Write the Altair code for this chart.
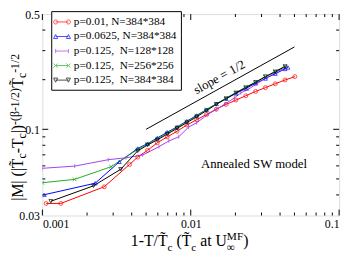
import altair as alt
import pandas as pd

# ---------------- data ----------------
labels = ["p=0.01, N=384*384", "p=0.0625, N=384*384", "p=0.125,\u00a0 N=128*128",
          "p=0.125,\u00a0 N=256*256", "p=0.125,\u00a0 N=384*384"]
colors = ["#ff0000", "#0000ff", "#a040f0", "#22aa22", "#000000"]

red_x = [0.00106, 0.00133, 0.00261, 0.00387, 0.00439, 0.00511, 0.00595, 0.00694, 0.00808, 0.00941,
         0.01096, 0.01276, 0.01487, 0.01732, 0.02017, 0.02349, 0.02736, 0.03187, 0.03712, 0.04323, 0.05035]
red_y = [0.0355, 0.0355, 0.0448, 0.0612, 0.0678, 0.0745, 0.0829, 0.0899, 0.0973, 0.1062,
         0.1143, 0.1230, 0.1324, 0.1417, 0.1504, 0.1598, 0.1697, 0.1790, 0.1889, 0.1992, 0.2088]

blue_x = [0.00103, 0.00227, 0.0033, 0.00439, 0.00511, 0.00595, 0.00694, 0.00808, 0.00941, 0.01096,
          0.01276, 0.01487, 0.01732, 0.02017, 0.02349, 0.02736, 0.03187, 0.03712, 0.04323, 0.0452]
blue_y = [0.0401, 0.0471, 0.0635, 0.0765, 0.0818, 0.0886, 0.0960, 0.1034, 0.1121, 0.1214,
          0.1316, 0.1426, 0.1535, 0.1651, 0.1768, 0.1901, 0.2033, 0.2174, 0.2324, 0.2371]

purple_x = [0.001, 0.00165, 0.00278, 0.00366, 0.00474, 0.00611, 0.00712, 0.00829, 0.00966, 0.01096,
            0.0131, 0.01487, 0.01688, 0.01965, 0.02177, 0.02459, 0.0282, 0.03285, 0.03826, 0.0444]
purple_y = [0.0580, 0.0598, 0.0654, 0.0672, 0.0698, 0.0785, 0.0850, 0.0900, 0.1030, 0.1095,
            0.1235, 0.1320, 0.1417, 0.1549, 0.1663, 0.1755, 0.1901, 0.2070, 0.2240, 0.2380]

green_x = [0.001, 0.00165, 0.0029, 0.00439, 0.00511, 0.00595, 0.00694, 0.00808, 0.00941, 0.01096,
           0.01276, 0.01487, 0.01732, 0.02017, 0.02349, 0.02736, 0.03187, 0.03712, 0.04323]
green_y = [0.0474, 0.0497, 0.0593, 0.0755, 0.0813, 0.0875, 0.0948, 0.1027, 0.1113, 0.1206,
           0.1316, 0.1426, 0.1545, 0.1674, 0.1803, 0.1940, 0.2088, 0.2248, 0.2419]

black_x = [0.00114, 0.00221, 0.00337, 0.00439, 0.00511, 0.00595, 0.00694, 0.00808, 0.00941, 0.01096,
           0.01276, 0.01487, 0.01732, 0.02017, 0.02349, 0.02736, 0.03187, 0.03712, 0.04323]
black_y = [0.0366, 0.0454, 0.0572, 0.0740, 0.0802, 0.0863, 0.0935, 0.1013, 0.1098, 0.1190,
           0.1298, 0.1417, 0.1535, 0.1663, 0.1790, 0.1927, 0.2088, 0.2233, 0.2403]

slope_x = [0.005, 0.05]
slope_y = [0.1, 0.316]

x_major = [0.001, 0.01, 0.1]
x_minor = [0.002, 0.003, 0.004, 0.005, 0.006, 0.007, 0.008, 0.009,
           0.02, 0.03, 0.04, 0.05, 0.06, 0.07, 0.08, 0.09]
y_labels = [0.03, 0.1, 0.5]
y_major = [0.1]
y_minor = [0.04, 0.05, 0.06, 0.07, 0.08, 0.09, 0.2, 0.3, 0.4]

notes = ["slope = 1/2", "Annealed SW model"]
notes_x = [0.0156, 0.0267]
notes_y = [0.207, 0.0615]

# ---------------- layout ----------------
W, H = 302, 205
FONT = "Liberation Serif"

series = [(red_x, red_y), (blue_x, blue_y), (purple_x, purple_y), (green_x, green_y), (black_x, black_y)]
rows = []
for lab, (xs_, ys_) in zip(labels, series):
    for i, (a, b) in enumerate(zip(xs_, ys_)):
        rows.append({"series": lab, "x": a, "y": b, "i": i})
df = pd.DataFrame(rows)

xs = alt.Scale(type="log", domain=[0.001, 0.1], nice=False)
ys = alt.Scale(type="log", domain=[0.03, 0.5], nice=False)
cscale = alt.Scale(domain=labels, range=colors)

point_shapes = ["circle", "triangle-up", "M0,-1L0,1", "M-1,-1L1,1M-1,1L1,-1", "triangle-down"]


def circ(cx, r):
    return f"M{cx - r},0a{r},{r} 0 1,0 {2 * r},0a{r},{r} 0 1,0 {-2 * r},0"


def leg(marker):
    r = 0.32
    parts = ["M-1,0L1,0"]
    for cx in (-1, 1):
        if marker == "circle":
            parts.append(circ(cx, r))
        elif marker == "up":
            parts.append(f"M{cx},{-r}L{cx + r},{r}L{cx - r},{r}Z")
        elif marker == "down":
            parts.append(f"M{cx},{r}L{cx + r},{-r}L{cx - r},{-r}Z")
        elif marker == "bar":
            parts.append(f"M{cx},{-r}L{cx},{r}")
        else:
            parts.append(f"M{cx - r},{-r}L{cx + r},{r}M{cx - r},{r}L{cx + r},{-r}")
    return "".join(parts)


legend_shapes = [leg("circle"), leg("up"), leg("bar"), leg("x"), leg("down")]

xaxis = alt.Axis(values=x_major, format="~g", title=None, ticks=False, domain=False, grid=False,
                 labelFont=FONT, labelFontSize=12, labelColor="black", labelPadding=3)
yaxis = alt.Axis(values=y_labels, format="~g", title=None, ticks=False, domain=False, grid=False,
                 labelFont=FONT, labelFontSize=12, labelColor="black", labelPadding=3)


def X(field):
    return alt.X(field, scale=xs, axis=xaxis)


def Y(field):
    return alt.Y(field, scale=ys, axis=yaxis)


lines = alt.Chart(df).mark_line(strokeWidth=1, clip=True).encode(
    x=X("x:Q"), y=Y("y:Q"),
    color=alt.Color("series:N", scale=cscale, legend=None),
    order="i:Q",
)
points = alt.Chart(df).mark_point(filled=False, size=16, strokeWidth=1, clip=True).encode(
    x=X("x:Q"), y=Y("y:Q"),
    color=alt.Color("series:N", scale=cscale, legend=None),
    shape=alt.Shape("series:N", scale=alt.Scale(domain=labels, range=point_shapes), legend=None),
)

slope_df = pd.DataFrame({"x": slope_x, "y": slope_y})
slope = alt.Chart(slope_df).mark_line(color="black", strokeWidth=1).encode(x=X("x:Q"), y=Y("y:Q"))

ndf = pd.DataFrame({"t": notes, "x": notes_x, "y": notes_y})
slope_txt = alt.Chart(ndf.iloc[[0]]).mark_text(font=FONT, fontSize=13, angle=331, color="black").encode(
    x=X("x:Q"), y=Y("y:Q"), text="t:N")
model_txt = alt.Chart(ndf.iloc[[1]]).mark_text(font=FONT, fontSize=13, color="black").encode(
    x=X("x:Q"), y=Y("y:Q"), text="t:N")

# hidden (clipped) marks that only carry the legend
ldf = pd.DataFrame({"series": labels, "x": [0.0001] * 5, "y": [0.1] * 5})
legend_layer = alt.Chart(ldf).mark_point(filled=False, strokeWidth=1, clip=True).encode(
    x=X("x:Q"), y=Y("y:Q"),
    color=alt.Color("series:N", scale=cscale,
                    legend=alt.Legend(orient="none", legendX=9, legendY=-3, title=None,
                                      labelFont=FONT, labelFontSize=11.5, labelColor="black",
                                      strokeColor="black", fillColor="white", padding=4,
                                      symbolSize=169, symbolStrokeWidth=1, rowPadding=1.8,
                                      labelOffset=5, labelLimit=300)),
    shape=alt.Shape("series:N", scale=alt.Scale(domain=labels, range=legend_shapes)),
)


# tick marks (inward, mirrored on all sides)
def xticks(vals, L):
    d = pd.DataFrame({"v": vals})
    b = alt.Chart(d).mark_rule(color="black", strokeWidth=1).encode(
        x=X("v:Q"), y=alt.value(H), y2=alt.value(H - L))
    t = alt.Chart(d).mark_rule(color="black", strokeWidth=1).encode(
        x=X("v:Q"), y=alt.value(0), y2=alt.value(L))
    return [b, t]


def yticks(vals, L):
    d = pd.DataFrame({"v": vals})
    l = alt.Chart(d).mark_rule(color="black", strokeWidth=1).encode(
        y=Y("v:Q"), x=alt.value(0), x2=alt.value(L))
    r = alt.Chart(d).mark_rule(color="black", strokeWidth=1).encode(
        y=Y("v:Q"), x=alt.value(W), x2=alt.value(W - L))
    return [l, r]


ticks = xticks(x_major, 6) + xticks(x_minor, 3) + yticks(y_major, 6) + yticks(y_minor, 3)

# ---------------- axis titles built from pieces ----------------
TW = {'|': 0.2, 'M': 0.889, ' ': 0.25, '\u00a0': 0.25, '(': 0.333, ')': 0.333, 'T': 0.611, '\u0303': 0.0,
      'c': 0.444, '-': 0.333, '\u03b2': 0.55, '1': 0.5, '/': 0.278, '2': 0.5, 'a': 0.444, 't': 0.278,
      'U': 0.722, '\u221e': 0.713, 'F': 0.556}


def tw(s, fs):
    return sum(TW.get(ch, 0.5) for ch in s) * fs


# (text, kind, advance, extra gap after)
xt_pieces = [("1-T/T\u0303", "b", True, 0), ("c", "sub", True, 4), ("(T\u0303", "b", True, 0),
             ("c", "sub", True, 4), ("at U", "b", True, 0), ("\u221e", "sub", False, 0),
             ("MF", "sup", True, 0), (")", "b", True, 0)]
yt_pieces = [("|M|", "b", True, 4), ("(|T\u0303", "b", True, 0), ("c", "sub", True, 0), ("-T", "b", True, 0),
             ("c", "sub", True, 0), ("|)", "b", True, 0), ("-(\u03b2-1/2)", "sup", True, 0),
             ("T\u0303", "b", True, 0), ("c", "sub", True, 0), ("-1/2", "sup", True, 0)]

title_layers = []
pos = 0.0
X0, BASE_Y = 90, 236.5
for txt, kind, adv, gap in xt_pieces:
    fs = 16 if kind == "b" else 11.5
    dy = {"b": 0, "sub": 5, "sup": -6.5}[kind]
    title_layers.append(alt.Chart(pd.DataFrame({"t": [txt]})).mark_text(
        font=FONT, fontSize=fs, align="left", baseline="alphabetic", color="black").encode(
        x=alt.value(X0 + pos), y=alt.value(BASE_Y + dy), text="t:N"))
    if adv:
        pos += tw(txt, fs) + gap

pos = 0.0
Y0, BASE_X = 190, -20
for txt, kind, adv, gap in yt_pieces:
    fs = 16 if kind == "b" else 12
    dx = {"b": 0, "sub": 3.5, "sup": -4}[kind]
    title_layers.append(alt.Chart(pd.DataFrame({"t": [txt]})).mark_text(
        font=FONT, fontSize=fs, align="left", baseline="alphabetic", angle=270, color="black").encode(
        x=alt.value(BASE_X + dx), y=alt.value(Y0 - pos), text="t:N"))
    if adv:
        pos += tw(txt, fs) + gap

chart = alt.layer(
    *ticks, slope, lines, points, slope_txt, model_txt, legend_layer, *title_layers
).resolve_scale(shape="independent", color="independent").properties(
    width=W, height=H,
    autosize=alt.AutoSizeParams(type="none"),
    padding={"left": 35, "top": 4, "right": 6, "bottom": 38},
).configure_view(stroke="black", strokeWidth=1).configure(background="white")

chart.save("out.html", embed_options={"renderer": "svg", "actions": False})
